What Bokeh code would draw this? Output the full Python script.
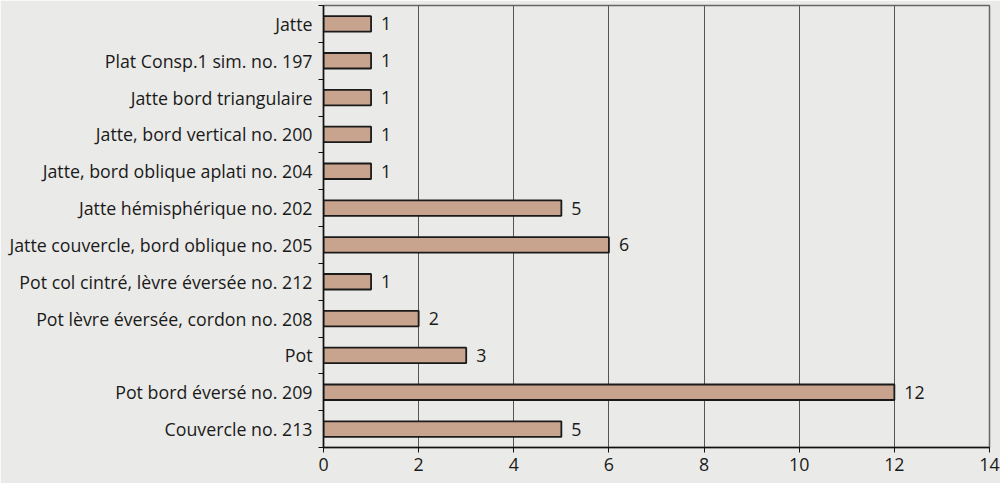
from bokeh.plotting import figure
from bokeh.models import ColumnDataSource, FixedTicker, Range1d
from bokeh.core.properties import value
from bokeh.embed import file_html
from bokeh.resources import INLINE

categories = [
    "Jatte",
    "Plat Consp.1 sim. no. 197",
    "Jatte bord triangulaire",
    "Jatte, bord vertical no. 200",
    "Jatte, bord oblique aplati no. 204",
    "Jatte hémisphérique no. 202",
    "Jatte couvercle, bord oblique no. 205",
    "Pot col cintré, lèvre éversée no. 212",
    "Pot lèvre éversée, cordon no. 208",
    "Pot",
    "Pot bord éversé no. 209",
    "Couvercle no. 213",
]
counts = [1, 1, 1, 1, 1, 5, 6, 1, 2, 3, 12, 5]
x_ticks = [0, 2, 4, 6, 8, 10, 12, 14]

n = len(categories)
centers = [n - i - 0.5 for i in range(n)]
boundaries = list(range(0, n + 1))

src = ColumnDataSource(dict(y=centers, v=counts, lab=[str(c) for c in counts]))

FONT = "Open Sans"
FS = "17.8px"
BG = "#eaeae8"
TXT = "#1a1a1a"

p = figure(width=1000, height=483, output_backend="svg", toolbar_location=None,
           x_range=Range1d(0, 14), y_range=Range1d(0, n),
           min_border_left=323, min_border_right=11, min_border_top=5, min_border_bottom=36)
p.background_fill_color = BG
p.border_fill_color = BG
p.outline_line_color = "#666666"
p.outline_line_width = 1.5

p.hbar(y="y", right="v", left=0, height=0.42, source=src,
       fill_color="#c8a48f", line_color="#1a1a1a", line_width=1.8)
p.text(x="v", y="y", text="lab", source=src, x_offset=10,
       text_font=value(FONT), text_font_size=FS, text_baseline="middle",
       text_align="left", text_color=TXT)

p.xaxis.ticker = FixedTicker(ticks=x_ticks)
p.xaxis.axis_line_color = "#111111"
p.xaxis.axis_line_width = 1.5
p.xaxis.major_tick_out = 5
p.xaxis.major_tick_in = 0
p.xaxis.major_tick_line_color = "#111111"
p.xaxis.minor_tick_line_color = None
p.xaxis.major_label_text_font = FONT
p.xaxis.major_label_text_font_size = FS
p.xaxis.major_label_text_color = TXT
p.xaxis.major_label_standoff = 5

p.yaxis.ticker = FixedTicker(ticks=centers, minor_ticks=boundaries)
p.yaxis.major_label_overrides = {c: lab for c, lab in zip(centers, categories)}
p.yaxis.axis_line_color = "#111111"
p.yaxis.axis_line_width = 1.5
p.yaxis.major_tick_line_color = None
p.yaxis.major_tick_out = 5
p.yaxis.minor_tick_out = 5
p.yaxis.minor_tick_in = 0
p.yaxis.minor_tick_line_color = "#111111"
p.yaxis.major_label_text_font = FONT
p.yaxis.major_label_text_font_size = FS
p.yaxis.major_label_text_color = TXT
p.yaxis.major_label_standoff = 6

p.xgrid.ticker = FixedTicker(ticks=x_ticks)
p.xgrid.grid_line_color = "#555555"
p.xgrid.grid_line_width = 1
p.ygrid.grid_line_color = None

open("out.html", "w").write(file_html(p, INLINE))
